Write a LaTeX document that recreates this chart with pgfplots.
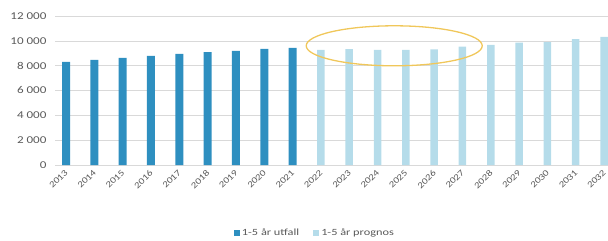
\documentclass[border=0pt]{standalone}
\usepackage{pgfplots}
\pgfplotsset{compat=1.18}
\usepackage{fontspec}
\setmainfont{Carlito}
\newfontfamily\tickfont{Carlito}[FakeStretch=1.25]
\newfontfamily\legfont{Carlito}[FakeStretch=1.3]
\definecolor{darkc}{HTML}{2E8FC0}
\definecolor{lightc}{HTML}{B5DCEA}
\definecolor{txtc}{HTML}{595959}
\definecolor{gridc}{HTML}{D9D9D9}
\definecolor{ellc}{HTML}{F0C75A}
\begin{document}
\begin{tikzpicture}[x=1bp,y=1bp]
\useasboundingbox (0,0) rectangle (608,240);
\begin{axis}[
  at={(55bp,75bp)}, anchor=south west,
  scale only axis, width=553bp, height=149bp,
  xmin=-0.39, xmax=19.14, ymin=0, ymax=12000,
  scaled y ticks=false,
  ytick={0,2000,4000,6000,8000,10000,12000},
  yticklabels={0,2 000,4 000,6 000,8 000,10 000,12 000},
  xtick={0,...,19},
  xticklabels={2013,2014,2015,2016,2017,2018,2019,2020,2021,2022,2023,2024,2025,2026,2027,2028,2029,2030,2031,2032},
  x tick label style={rotate=45, anchor=north east, inner sep=0.5pt, xshift=-3.5bp, yshift=-1bp, font=\tickfont\fontsize{8.8}{10}\selectfont, text=txtc},
  y tick label style={font=\tickfont\fontsize{10.5}{11}\selectfont, text=txtc, xshift=-5bp},
  ymajorgrids, xmajorgrids=false, grid style={draw=gridc, line width=0.6pt},
  axis x line*=bottom, axis y line*=left,
  x axis line style={draw=gridc, line width=0.8pt, -},
  y axis line style={draw=none},
  major tick length=0pt,
  clip=false,
  legend style={at={(0.47,-0.456)}, anchor=center, draw=none, legend columns=2,
    font=\legfont\fontsize{9.5}{10}\selectfont, text=txtc, /tikz/every even column/.append style={column sep=12bp}},
  legend image code/.code={\fill[#1] (0bp,-3bp) rectangle (6bp,3bp);},
]
\addplot[ybar, bar width=8bp, bar shift=0pt, fill=darkc, draw=none] coordinates {
(0,8300) (1,8470) (2,8630) (3,8790) (4,8950) (5,9100) (6,9200) (7,9350) (8,9440)};
\addlegendentry{1-5 år utfall}
\addplot[ybar, bar width=7.5bp, bar shift=0pt, fill=lightc, draw=none] coordinates {
(9,9270) (10,9330) (11,9270) (12,9270) (13,9310) (14,9540) (15,9680) (16,9860) (17,9900) (18,10140) (19,10320)};
\addlegendentry{1-5 år prognos}
\draw[ellc, line width=1.3pt] (axis cs:11.59,9600) ellipse [x radius=88bp, y radius=20bp];
\end{axis}
\end{tikzpicture}
\end{document}
